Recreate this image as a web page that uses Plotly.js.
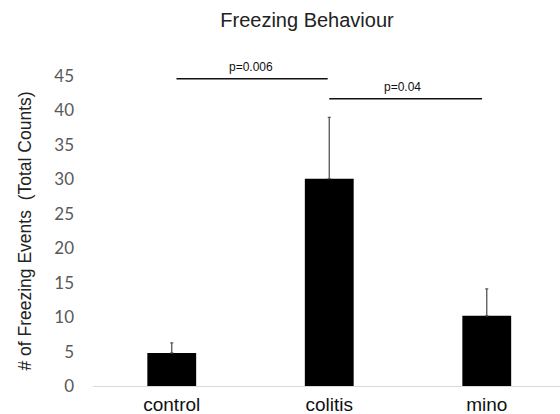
<!DOCTYPE html>
<html><head><meta charset="utf-8">
<script src="https://cdn.plot.ly/plotly-3.0.1.min.js"></script>
<style>html,body{margin:0;padding:0;background:#fff}#chart{width:560px;height:414px}</style>
</head><body><div id="chart"></div>
<script>
const categories = ["control", "colitis", "mino"];
const counts = [4.8, 30.1, 10.2];
const errPlus = [1.45, 8.9, 3.9];
const pLabels = ["p=0.006", "p=0.04"];
const pLevels = [44.6, 41.7];

const trace = {
  type: "bar", x: categories, y: counts, width: 0.31,
  marker: {color: "#000000"},
  error_y: {type: "data", symmetric: false, array: errPlus, arrayminus: [0,0,0],
            color: "#555555", thickness: 1.3, width: 1.5},
  hoverinfo: "skip"
};

const layout = {
  width: 560, height: 414,
  margin: {l: 93, r: 0, t: 76, b: 28},
  paper_bgcolor: "#fff", plot_bgcolor: "#fff",
  showlegend: false,
  title: {text: "Freezing Behaviour", x: 307/560, xanchor: "center", y: 1 - 20/414, yanchor: "middle",
          font: {family: "Liberation Sans, Arial", size: 20, color: "#222"}},
  xaxis: {type: "category", range: [-0.5, 2.465], showgrid: false, zeroline: false,
          showline: true, linecolor: "#d9d9d9", linewidth: 1, ticks: "",
          ticklabelstandoff: 1,
          tickfont: {family: "Liberation Sans, Arial", size: 19, color: "#111"}},
  yaxis: {range: [0, 45], dtick: 5, showgrid: false, zeroline: false, showline: false, ticks: "",
          ticklabelstandoff: 18,
          tickfont: {family: "Lato, Open Sans, sans-serif", size: 17, color: "#595959"},
          title: {text: "# of Freezing Events  (Total Counts)", standoff: 18,
                  font: {family: "Liberation Sans, Arial", size: 17.5, color: "#222"}}},
  shapes: [
    {type: "line", xref: "x", yref: "y", x0: 0.03, x1: 0.99, y0: pLevels[0], y1: pLevels[0],
     line: {color: "#111", width: 1.6}},
    {type: "line", xref: "x", yref: "y", x0: 1.0, x1: 1.97, y0: pLevels[1], y1: pLevels[1],
     line: {color: "#111", width: 1.6}}
  ],
  annotations: [
    {text: pLabels[0], xref: "x", yref: "y", x: 0.505, y: pLevels[0], yanchor: "bottom", yshift: 3, showarrow: false,
     font: {family: "Liberation Sans, Arial", size: 12, color: "#111"}},
    {text: pLabels[1], xref: "x", yref: "y", x: 1.467, y: pLevels[1], yanchor: "bottom", yshift: 3, showarrow: false,
     font: {family: "Liberation Sans, Arial", size: 12, color: "#111"}}
  ]
};

Plotly.newPlot("chart", [trace], layout, {displayModeBar: false, staticPlot: true});
</script></body></html>
